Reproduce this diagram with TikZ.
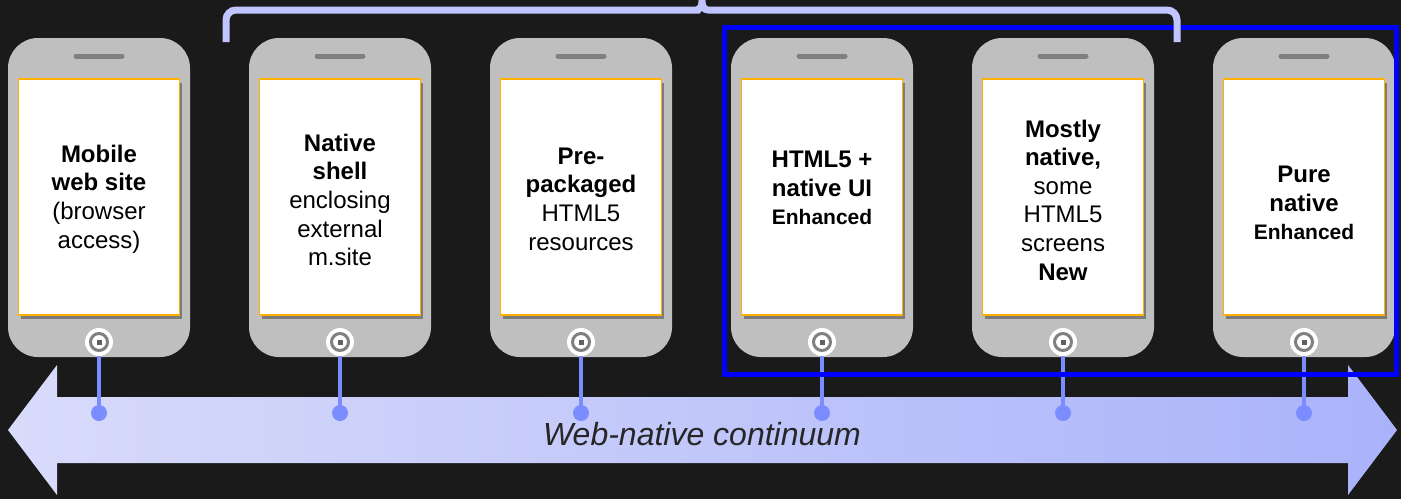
\documentclass[tikz,border=0pt]{standalone}
\usepackage{fontspec}
\setmainfont{Liberation Sans}
\usepackage{tikz}
\usetikzlibrary{arrows.meta,positioning,shapes,calc,shadows}
\definecolor{bg}{HTML}{1A1A1A}
\definecolor{body}{HTML}{BFBFBF}
\definecolor{knob}{HTML}{808080}
\definecolor{rim}{HTML}{FFB000}
\definecolor{link}{HTML}{7B8CFF}
\definecolor{arrowl}{HTML}{D8DBFA}
\definecolor{arrowr}{HTML}{AAB3FA}
\definecolor{brc}{HTML}{C0C4FF}
\definecolor{frame}{HTML}{0000FF}

\begin{document}
\begin{tikzpicture}[x=0.5pt,y=-0.5pt,
  phone/.style={fill=body,rounded corners=15pt,minimum width=91pt,minimum height=159.5pt,inner sep=0pt},
  scr/.style={draw=rim,line width=0.8pt,fill=white,minimum width=80.5pt,minimum height=118pt,inner sep=0pt,
    drop shadow={shadow xshift=1.2pt,shadow yshift=-1.8pt,fill=black,opacity=.35}},
  txt/.style={align=center,inner sep=0pt,font=\fontsize{12}{14.3}\selectfont},
  btn/.style={circle,fill=white,minimum size=14pt,inner sep=0pt},
  bead/.style={circle,fill=link,minimum size=8pt,inner sep=0pt},
  conn/.style={draw=link,line width=2pt}]
\useasboundingbox (0,0) rectangle (1401,499);
\fill[bg] (0,0) rectangle (1401,499);
% continuum arrow
\shade[left color=arrowl,right color=arrowr] (8,430) -- (57,365) -- (57,397) -- (1348,397) -- (1348,365) -- (1397,430)
  -- (1348,495) -- (1348,463) -- (57,463) -- (57,495) -- cycle;
\node[font=\fontsize{16}{19}\selectfont\itshape,text=black!85] (cap) at (702,434) {Web-native continuum};
% phones
\foreach \i/\x/\ty/\txt in {
  1/99/199/{\textbf{Mobile}\\\textbf{web site}\\(browser\\access)},
  2/340/200/{\textbf{Native}\\\textbf{shell}\\enclosing\\external\\m.site},
  3/581/199/{\textbf{Pre-}\\\textbf{packaged}\\HTML5\\resources},
  4/822/188/{\textbf{HTML5 +}\\\textbf{native UI}\\{\fontsize{10.5}{14.3}\selectfont\textbf{Enhanced}}},
  5/1063/200/{\textbf{Mostly}\\\textbf{native,}\\some\\HTML5\\screens\\\textbf{New}},
  6/1304/203/{\textbf{Pure}\\\textbf{native}\\{\fontsize{10.5}{14.3}\selectfont\textbf{Enhanced}}}}{
  \node[phone] (ph\i) at (\x,197.5) {};
  \draw[knob,line width=2.5pt,line cap=round] (\x-23,56) -- (\x+23,56);
  \node[scr] (scr\i) at (\x,197) {};
  \node[txt] (lbl\i) at (\x,\ty) {\txt};
  \node[btn] (btn\i) at (\x,342) {};
  \draw[knob,line width=1.5pt] (btn\i) circle (4.25pt);
  \fill[knob!75!black] ($(btn\i)+(-1.25pt,-1.25pt)$) rectangle ($(btn\i)+(1.25pt,1.25pt)$);
  \node[bead] (bead\i) at (\x,413) {};
  \draw[conn] (btn\i) -- (bead\i.center);
}
% native group
\draw[frame,line width=2.5pt] (724,27) rectangle (1396,374);
\draw[brc,line width=3.5pt] (226,42) [rounded corners=5pt] |- (690,10) [sharp corners] -- (696,10)
  .. controls (700,10) and (702,6) .. (702,1) .. controls (702,6) and (704,10) .. (708,10) -- (714,10)
  [rounded corners=5pt] -| (1177,42);
\end{tikzpicture}
\end{document}
